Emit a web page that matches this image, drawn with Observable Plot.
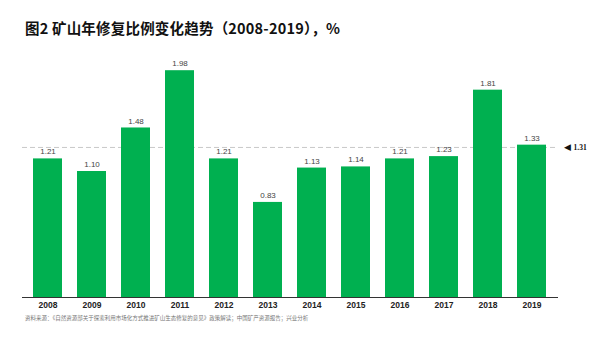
<!DOCTYPE html>
<html>
<head>
<meta charset="utf-8">
<script src="https://cdn.jsdelivr.net/npm/d3@7"></script>
<script src="https://cdn.jsdelivr.net/npm/@observablehq/plot@0.6"></script>
<style>
  body { margin: 0; background: #fff; width: 595px; height: 354px; overflow: hidden; }
  #title { position: absolute; left: 25px; top: 17px; font-family: "Noto Sans CJK SC", sans-serif; font-weight: bold; font-size: 14.5px; color: #111; letter-spacing: 0.2px; white-space: nowrap; }
  #chart { position: absolute; left: 0; top: 45px; }
  #source { position: absolute; left: 25px; top: 314px; font-family: "Noto Sans CJK SC", sans-serif; font-size: 5.5px; color: #777; white-space: nowrap; }
</style>
</head>
<body>
<div id="title">图2 矿山年修复比例变化趋势（2008-2019），%</div>
<div id="chart"></div>
<div id="source">资料来源：《自然资源部关于探索利用市场化方式推进矿山生态修复的意见》政策解读；中国矿产资源报告；兴业分析</div>
<script>
const years = ["2008","2009","2010","2011","2012","2013","2014","2015","2016","2017","2018","2019"];
const ratios = [1.21, 1.10, 1.48, 1.98, 1.21, 0.83, 1.13, 1.14, 1.21, 1.23, 1.81, 1.33];
const averageValue = 1.31;
const averageLabel = "1.31";

const data = years.map((y, i) => ({year: y, value: ratios[i]}));

const chart = Plot.plot({
  width: 595,
  height: 267,
  marginLeft: 22,
  marginRight: 37,
  marginTop: 0,
  marginBottom: 15,
  style: {background: "transparent"},
  x: {domain: years, paddingInner: 0.34, paddingOuter: 0.17, label: null},
  y: {domain: [0, 2.2], axis: null},
  marks: [
    Plot.ruleY([averageValue], {stroke: "#c8c8c8", strokeDasharray: "5,3", strokeWidth: 1}),
    Plot.barY(data, {x: "year", y: "value", fill: "#00b050"}),
    Plot.text(data, {x: "year", y: "value", text: d => d.value.toFixed(2), dy: -7, fontSize: 8, fill: "#444", fontFamily: "Liberation Sans, Arial, sans-serif"}),
    Plot.ruleY([0], {stroke: "#333", strokeWidth: 1}),
    Plot.axisX({tickSize: 0, tickPadding: 4, fontSize: 8.5, fontWeight: "bold", fill: "#222", fontFamily: "Liberation Sans, Arial, sans-serif"}),
    Plot.text([averageValue], {y: d => d, frameAnchor: "right", text: () => "◀", textAnchor: "start", dx: 5, fontSize: 9, fill: "#111"}),
    Plot.text([averageValue], {y: d => d, frameAnchor: "right", text: () => averageLabel, textAnchor: "start", dx: 15, fontSize: 7.5, fontWeight: "bold", fill: "#111", fontFamily: "Liberation Serif, serif"})
  ]
});
document.getElementById("chart").appendChild(chart);
</script>
</body>
</html>
